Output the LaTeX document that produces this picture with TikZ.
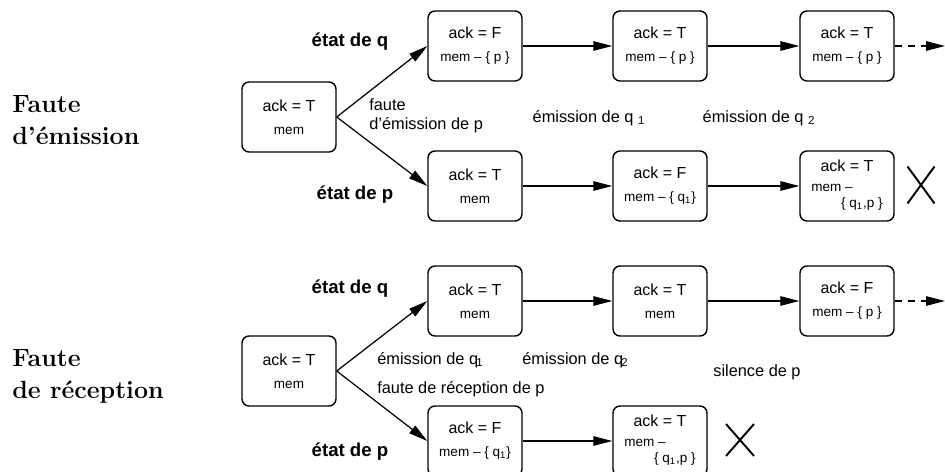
\documentclass[tikz,border=0pt]{standalone}
\usepackage{fontspec}
\setsansfont{Liberation Sans}
\usetikzlibrary{arrows.meta, shapes.misc}
\newcommand{\petit}{\fontsize{7.7}{9}\selectfont}

\begin{document}
\begin{tikzpicture}[
    font=\sffamily,
    etat/.style={rectangle, draw, rounded corners=4pt, line width=0.8pt,
                 minimum width=1.88cm, minimum height=1.4cm, inner sep=1pt,
                 font=\sffamily\fontsize{9.1}{13}\selectfont, align=center},
    lbl/.style={font=\sffamily\fontsize{9.3}{10.5}\selectfont, inner sep=0pt},
    proc/.style={font=\sffamily\bfseries\fontsize{10.6}{12}\selectfont},
    titre/.style={font=\rmfamily\bfseries\fontsize{14.2}{18.2}\selectfont,
                  align=left, anchor=west, inner sep=0pt},
    arr/.style={-{Triangle[length=0.38cm, width=0.19cm]}, line width=0.7pt},
    croix/.style={cross out, draw, line width=1.1pt, inner sep=0pt}
  ]
  \useasboundingbox (0,0) rectangle (18.9,9.44);

  % Faute d'emission
  \node[titre] (t1) at (0.24,7.04) {Faute\\d'émission};
  \node[etat] (e0)  at (5.78,7.10)  {ack = T\\{\petit mem}};
  \node[etat] (eq1) at (9.50,8.52)  {ack = F\\{\petit mem -- \{ p \}}};
  \node[etat] (eq2) at (13.20,8.52) {ack = T\\{\petit mem -- \{ p \}}};
  \node[etat] (eq3) at (16.94,8.52) {ack = T\\{\petit mem -- \{ p \}}};
  \node[etat] (ep1) at (9.50,5.72)  {ack = T\\{\petit mem}};
  \node[etat] (ep2) at (13.20,5.72) {ack = F\\{\petit mem -- \{ q\textsubscript{1}\}}};
  \node[etat] (ep3) at (16.94,5.72) {ack = T\\[-1.6pt]{\petit\begin{tabular}[t]{@{}l@{}}mem --\\\hspace{2.2em}\{ q\textsubscript{1},p \}\end{tabular}}};

  \node[proc] (nq1) at (7.0,8.6)  {état de q};
  \node[proc] (np1) at (7.1,5.54) {état de p};
  \node[lbl, align=left, anchor=west] (f1) at (7.38,7.12) {faute\\d'émission de p};
  \node[lbl] (m1) at (11.78,7.08) {émission de q \textsubscript{1}};
  \node[lbl] (m2) at (15.18,7.08) {émission de q \textsubscript{2}};
  \node[croix, minimum width=0.5cm, minimum height=0.7cm] (x1) at (18.42,5.74) {};

  \draw[arr] (e0.east) -- (eq1.west);
  \draw[arr] (e0.east) -- (ep1.west);
  \draw[arr] (eq1) -- (eq2);
  \draw[arr] (eq2) -- (eq3);
  \draw[arr] (ep1) -- (ep2);
  \draw[arr] (ep2) -- (ep3);
  \coordinate (fin1) at (18.9,8.52);
  \draw[arr, dash pattern=on 0.14cm off 0.12cm] (eq3) -- (fin1);

  % Faute de reception
  \node[titre] (t2) at (0.24,1.92) {Faute\\de réception};
  \node[etat] (r0)  at (5.78,2.02)  {ack = T\\{\petit mem}};
  \node[etat] (rq1) at (9.50,3.42)  {ack = T\\{\petit mem}};
  \node[etat] (rq2) at (13.20,3.42) {ack = T\\{\petit mem}};
  \node[etat] (rq3) at (16.94,3.42) {ack = F\\{\petit mem -- \{ p \}}};
  \node[etat] (rp1) at (9.50,0.62)  {ack = F\\{\petit mem -- \{ q\textsubscript{1}\}}};
  \node[etat] (rp2) at (13.20,0.62) {ack = T\\[-1.6pt]{\petit\begin{tabular}[t]{@{}l@{}}mem --\\\hspace{2.2em}\{ q\textsubscript{1},p \}\end{tabular}}};

  \node[proc] (nq2) at (7.0,3.66) {état de q};
  \node[proc] (np2) at (7.0,0.40) {état de p};
  \node[lbl, anchor=west] (m3) at (7.54,2.24) {émission de q\kern-1pt\textsubscript{1}};
  \node[lbl, anchor=west] (m4) at (10.44,2.24) {émission de q\kern-1pt\textsubscript{2}};
  \node[lbl, anchor=west] (f2) at (7.54,1.66) {faute de réception de p};
  \node[lbl] (sil) at (15.14,2.0) {silence de p};
  \node[croix, minimum width=0.52cm, minimum height=0.6cm] (x2) at (14.8,0.64) {};

  \draw[arr] (r0.east) -- (rq1.west);
  \draw[arr] (r0.east) -- (rp1.west);
  \draw[arr] (rq1) -- (rq2);
  \draw[arr] (rq2) -- (rq3);
  \draw[arr] (rp1) -- (rp2);
  \coordinate (fin2) at (18.9,3.42);
  \draw[arr, dash pattern=on 0.14cm off 0.12cm] (rq3) -- (fin2);
\end{tikzpicture}
\end{document}
